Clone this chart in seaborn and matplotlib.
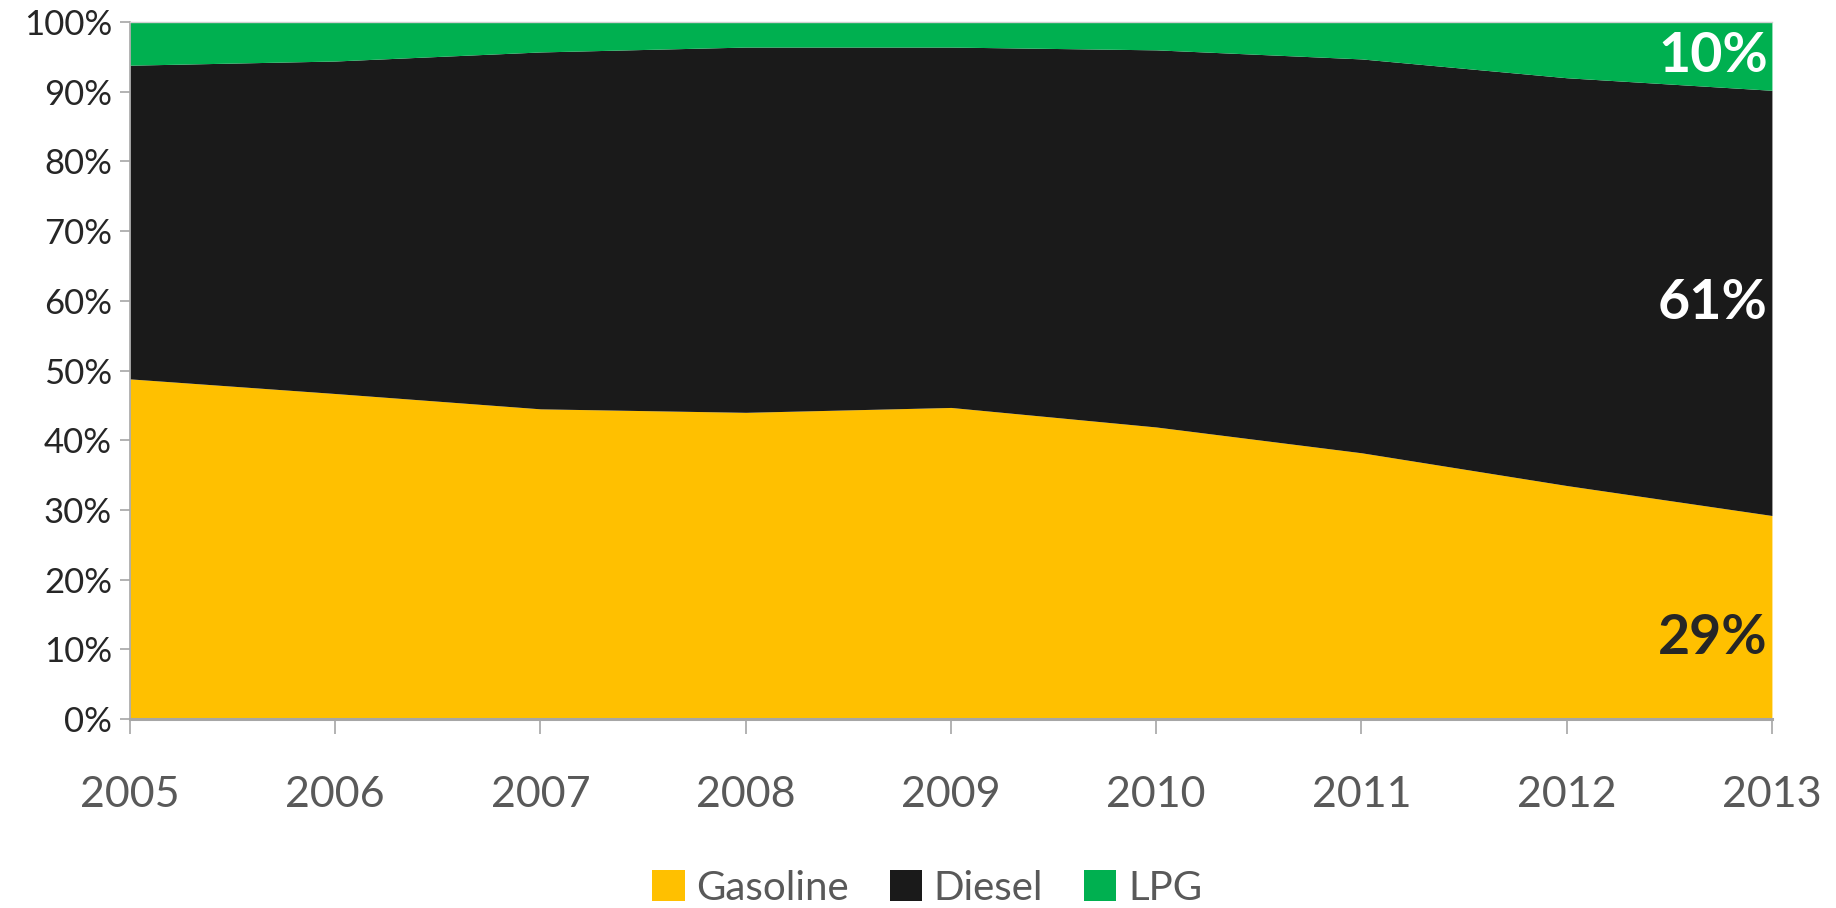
import numpy as np
import matplotlib
matplotlib.use("Agg")
import matplotlib.pyplot as plt
import seaborn as sns
from matplotlib.patches import Patch
from matplotlib.ticker import PercentFormatter

# Fuel share data (percent of total)
years = [2005, 2006, 2007, 2008, 2009, 2010, 2011, 2012, 2013]
gasoline = [48.8, 46.7, 44.5, 44.0, 44.7, 41.9, 38.2, 33.5, 29.2]
diesel = [45.0, 47.7, 51.2, 52.4, 51.7, 54.1, 56.5, 58.5, 61.0]
lpg = [6.2, 5.6, 4.3, 3.6, 3.6, 4.0, 5.3, 8.0, 9.8]
series_names = ["Gasoline", "Diesel", "LPG"]
colors = ["#FFC000", "#1A1A1A", "#00B050"]
end_labels = ["29%", "61%", "10%"]
label_colors = ["#262626", "white", "white"]

sns.set_theme(style="white")
plt.rcParams['font.family'] = ['Lato', 'DejaVu Sans']

fig = plt.figure(figsize=(18.36, 9.08), dpi=100)
ax = fig.add_axes([0.0708, 0.2081, 0.8943, 0.7677])

ax.stackplot(years, gasoline, diesel, lpg, colors=colors, linewidth=0)

ax.set_xlim(years[0], years[-1])
ax.set_ylim(0, 100)
ax.set_xticks(years)
ax.set_yticks(np.arange(0, 101, 10))
ax.yaxis.set_major_formatter(PercentFormatter(xmax=100, decimals=0))

ax.tick_params(axis="x", direction="out", length=11, width=1.2, color="#A6A6A6",
               pad=30, labelsize=31, labelcolor="#595959", bottom=True)
ax.tick_params(axis="y", direction="out", length=7, width=1.2, color="#A6A6A6",
               pad=6, labelsize=25, labelcolor="#262626", left=True)

for side in ["left", "bottom"]:
    ax.spines[side].set_color("#A6A6A6")
ax.spines["left"].set_linewidth(1.2)
ax.spines["bottom"].set_linewidth(2.2)
ax.spines["top"].set_color("#D0D0D0")
ax.spines["top"].set_linewidth(1)
ax.spines["right"].set_visible(False)

# end-of-series labels inside each band at the last year
g, d, l = gasoline[-1], diesel[-1], lpg[-1]
label_y = [g * 0.4, g + d / 2, 100 - l / 2]
for txt, y, c in zip(end_labels, label_y, label_colors):
    ax.text(years[-1] - 0.02, y, txt, ha="right", va="center",
            fontsize=40, fontweight="bold", color=c)

handles = [Patch(facecolor=c, edgecolor="none") for c in colors]
fig.legend(handles, series_names, loc="center", bbox_to_anchor=(0.505, 0.022),
           ncol=3, frameon=False, fontsize=29, handlelength=0.8, handleheight=0.8,
           handletextpad=0.3, columnspacing=1.0, labelcolor="#595959")

fig.savefig("out.png", dpi=100)
